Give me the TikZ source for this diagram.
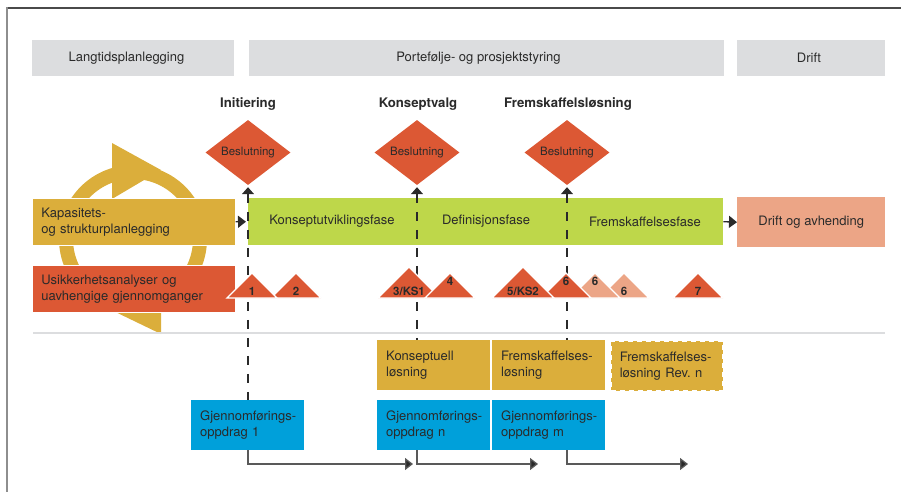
\documentclass[tikz,border=0pt]{standalone}
\usepackage{fontspec}
\setmainfont{TeX Gyre Heros}
\usetikzlibrary{shapes.geometric,arrows.meta}

\definecolor{hdrgray}{HTML}{DCDDDF}
\definecolor{qred}{HTML}{DC5834}
\definecolor{qyellow}{HTML}{DBAE3B}
\definecolor{qgreen}{HTML}{BED74A}
\definecolor{qsalmon}{HTML}{ECA586}
\definecolor{qblue}{HTML}{00A0DA}
\definecolor{ink}{HTML}{2A2A2A}
\definecolor{framedark}{HTML}{4A4A4A}
\definecolor{framegray}{HTML}{8E8E8E}

% quality-assurance marker: name, apex x, height, colour, label baseline, label
\newcommand{\qamark}[6]{%
  \filldraw[fill=#4, draw=white, line width=1.3pt]
    (#2-#3,298) -- (#2,298-#3) -- (#2+#3,298) -- cycle;
  \node[qalabel] (#1) at (#2,#5) {#6};}

\begin{document}
\begin{tikzpicture}[x=1pt,y=-1pt,
  every node/.style={font=\fontsize{13}{16}\selectfont, text=ink},
  hdrbox/.style={fill=hdrgray, anchor=north west, inner sep=0pt, minimum height=36pt},
  txtbox/.style={anchor=north west, inner xsep=9pt, inner ysep=0pt, align=left},
  decision/.style={diamond, fill=qred, inner sep=0pt, minimum width=85pt,
    minimum height=65pt, font=\fontsize{11.5}{13}\selectfont},
  gate/.style={font=\bfseries\fontsize{13.2}{15}\selectfont, anchor=base},
  qalabel/.style={font=\bfseries\fontsize{11.5}{13}\selectfont, anchor=base, inner sep=0pt},
  dline/.style={draw=ink, line width=1.3pt, dash pattern=on 9pt off 9pt},
  uptip/.style={{Triangle[length=7pt,width=12pt]}-},
  sideflow/.style={draw=ink, line width=1.3pt, -{Triangle[length=8pt,width=12pt]}},
  bflow/.style={draw=black!65, line width=1.3pt, -{Triangle[length=8pt,width=12pt,fill=ink]}},
]
\useasboundingbox (0,0) rectangle (901,492);

% frame
\draw[framedark, line width=1.3pt] (7,8) -- (901,8);
\draw[framegray, line width=2pt] (7,7.4) -- (7,492);

% phase headers
\node[hdrbox, minimum width=202pt] (hL) at (32,40) {};
\node[hdrbox, minimum width=475pt] (hP) at (249,40) {};
\node[hdrbox, minimum width=148pt] (hD) at (737,40) {};
\node (tL) at (126.5,58) {Langtidsplanlegging};
\node (tP) at (478.5,58) {Portefølje- og prosjektstyring};
\node (tD) at (809,58) {Drift};

% decision gates
\node[gate] (g1t) at (248,108) {Initiering};
\node[gate] (g2t) at (418,108) {Konseptvalg};
\node[gate] (g3t) at (568,108) {Fremskaffelsløsning};
\node[decision] (d1) at (248,152.5) {Beslutning};
\node[decision] (d2) at (417,152.5) {Beslutning};
\node[decision] (d3) at (567,152.5) {Beslutning};

% planning cycle behind the left-hand boxes
\draw[qyellow, line width=14pt] (133,239) circle[radius=67];
\fill[qyellow] (112,143) -- (112,199) -- (161,170) -- cycle;
\fill[qyellow] (161,334) -- (161,280) -- (103,306) -- cycle;

% phase bar
\node[fill=qgreen, anchor=north west, inner sep=0pt, minimum width=475pt, minimum height=47pt] (ph) at (248,198) {};
\node (ph1) at (332,221.5) {Konseptutviklingsfase};
\node (ph2) at (486,221.5) {Definisjonsfase};
\node (ph3) at (645,221.5) {Fremskaffelsesfase};
\node[fill=qsalmon, anchor=north west, inner sep=0pt, minimum width=148pt, minimum height=50pt] (drift) at (737,197) {Drift og avhending};

\node[txtbox, fill=qyellow, draw=white, line width=0.6pt, text width=185pt, minimum height=47pt] (kap) at (32,198)
  {Kapasitets-\\og strukturplanlegging};
\node[txtbox, fill=qred, draw=white, line width=0.6pt, text width=185pt, minimum height=47pt] (usik) at (32,265)
  {Usikkerhetsanalyser og\\uavhengige gjennomganger};

\draw[sideflow] (kap.east) -- ([xshift=-2pt]ph.west);
\draw[sideflow] (ph.east) -- (drift.west);

% separator
\draw[hdrgray, line width=2.5pt] (33,333) -- (885,333);

% lower boxes
\node[txtbox, fill=qyellow, text width=95pt, minimum height=50pt] (kl) at (377,340) {Konseptuell\\løsning};
\node[txtbox, fill=qyellow, text width=95pt, minimum height=50pt] (fl) at (492,340) {\mbox{Fremskaffelses-}\\løsning};
\node[txtbox, fill=qyellow, draw=white, line width=1.5pt, dash pattern=on 5pt off 4pt,
  text width=94pt, minimum height=50pt] (fr) at (610,340) {\mbox{Fremskaffelses-}\\løsning Rev.\ n};
\node[txtbox, fill=qblue, text width=95pt, minimum height=50pt] (o1) at (191,400) {\mbox{Gjennomførings-}\\oppdrag 1};
\node[txtbox, fill=qblue, text width=95pt, minimum height=50pt] (on) at (377,400) {\mbox{Gjennomførings-}\\oppdrag n};
\node[txtbox, fill=qblue, text width=95pt, minimum height=50pt] (om) at (492,400) {\mbox{Gjennomførings-}\\oppdrag m};

% decision lines
\draw[dline, uptip] ([yshift=-2pt]d1.south) -- (d1.south |- o1.north);
\draw[dline, uptip] ([yshift=-2pt]d2.south) -- (d2.south |- kl.north);
\draw[dline, uptip] ([yshift=-2pt]d3.south) -- (d3.south |- fl.north);

% assignment flow
\coordinate (e1) at (413,464);
\coordinate (e2) at (538,464);
\coordinate (e3) at (688,464);
\draw[bflow] (d1.south |- o1.south) |- (e1);
\draw[bflow] (d2.south |- on.south) |- (e2);
\draw[bflow] (d3.south |- om.south) |- (e3);

% quality-assurance markers
\qamark{q2}{296}{25}{qred}{295}{2}
\qamark{q1}{252}{25}{qred}{295}{1}
\qamark{q3}{409}{31}{qred}{295}{3/KS1}
\qamark{q4}{450}{25}{qred}{285}{4}
\qamark{q6c}{624}{25}{qsalmon}{295}{6}
\qamark{q6b}{595}{25}{qsalmon}{285}{6}
\qamark{q6a}{566}{25}{qred}{285}{6}
\qamark{q5}{523}{31}{qred}{295}{5/KS2}
\qamark{q7}{698}{25}{qred}{295}{7}
\end{tikzpicture}
\end{document}
